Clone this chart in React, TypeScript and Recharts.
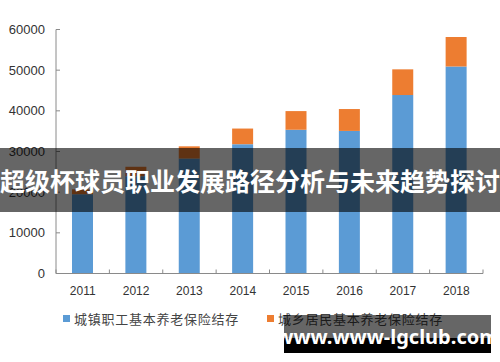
import React from "react";
import { BarChart, Bar, XAxis, YAxis } from "recharts";

const years = ["2011", "2012", "2013", "2014", "2015", "2016", "2017", "2018"];
const urbanWorkers = [19497, 23941, 28269, 31800, 35345, 35058, 43885, 50901];
const ruralResidents = [1199, 2302, 3006, 3845, 4592, 5385, 6318, 7250];
const seriesNames = ["城镇职工基本养老保险结存", "城乡居民基本养老保险结存"];
const seriesColors = ["#5B9BD5", "#ED7D31"];
const yTicks = [0, 10000, 20000, 30000, 40000, 50000, 60000];
const bannerText = "超级杯球员职业发展路径分析与未来趋势探讨";
const watermarkText = "www.www-lgclub.com";

const data = years.map((y, i) => ({ year: y, urban: urbanWorkers[i], rural: ruralResidents[i] }));

const AXIS_COLOR = "#8a8a8a";
const HALF_BAND = 427 / 8 / 2;

const XTick = (props: any) => {
  const { x, y, payload, index } = props;
  return (
    <g>
      <line x1={x - HALF_BAND} x2={x - HALF_BAND} y1={y} y2={y - 4} stroke={AXIS_COLOR} />
      {index === years.length - 1 && (
        <line x1={x + HALF_BAND} x2={x + HALF_BAND} y1={y} y2={y - 4} stroke={AXIS_COLOR} />
      )}
      <text x={x} y={y + 21} textAnchor="middle" fontSize={12} fill="#333" fontFamily="Liberation Sans, Arial, sans-serif">
        {payload.value}
      </text>
    </g>
  );
};

const YTick = (props: any) => {
  const { x, y, payload } = props;
  return (
    <g>
      <line x1={x} x2={x + 4} y1={y} y2={y} stroke={AXIS_COLOR} />
      <text x={x - 11} y={y + 4.5} textAnchor="end" fontSize={13} fill="#333" fontFamily="Liberation Sans, Arial, sans-serif">
        {payload.value}
      </text>
    </g>
  );
};

export default function App() {
  return (
    <div style={{ position: "absolute", left: 0, top: 0, width: 500, height: 362, background: "#fff", overflow: "hidden" }}>
      <BarChart
        width={500}
        height={362}
        data={data}
        margin={{ top: 29.5, right: 17, left: 6, bottom: 58.5 }}
      >
        <XAxis
          dataKey="year"
          height={30}
          tickLine={false}
          tickSize={0}
          tickMargin={0}
          axisLine={{ stroke: AXIS_COLOR }}
          tick={<XTick />}
          interval={0}
        />
        <YAxis
          width={50}
          domain={[0, 60000]}
          ticks={yTicks}
          tickLine={false}
          tickSize={0}
          tickMargin={0}
          axisLine={{ stroke: AXIS_COLOR }}
          tick={<YTick />}
          interval={0}
        />
        <Bar dataKey="urban" stackId="a" fill={seriesColors[0]} barSize={21} isAnimationActive={false} />
        <Bar dataKey="rural" stackId="a" fill={seriesColors[1]} barSize={21} isAnimationActive={false} />
      </BarChart>

      {seriesNames.map((name, i) => (
        <div
          key={name}
          style={{
            position: "absolute",
            left: i === 0 ? 63 : 267,
            top: 309,
            display: "flex",
            alignItems: "center",
            height: 18,
          }}
        >
          <div style={{ width: 7, height: 7, background: seriesColors[i], marginRight: 4 }} />
          <span
            style={{
              fontFamily: "'Noto Sans CJK SC', sans-serif",
              fontSize: 13,
              letterSpacing: 0.75,
              color: "#444",
              whiteSpace: "nowrap",
            }}
          >
            {name}
          </span>
        </div>
      ))}

      <div
        style={{
          position: "absolute",
          left: 0,
          top: 148,
          width: 500,
          height: 64,
          background: "rgba(0,0,0,0.6)",
          display: "flex",
          alignItems: "center",
          justifyContent: "center",
        }}
      >
        <span
          style={{
            color: "#fff",
            fontFamily: "'Noto Sans CJK SC', sans-serif",
            fontWeight: 700,
            fontSize: 25,
            whiteSpace: "nowrap",
          }}
        >
          {bannerText}
        </span>
      </div>

      <div style={{ position: "absolute", left: 284, top: 315, width: 207, height: 38, background: "rgba(0,0,0,0.6)" }} />
      <div style={{ position: "absolute", left: 284, top: 338, width: 207, height: 15, background: "#000" }} />
      <div
        style={{
          position: "absolute",
          left: 284,
          top: 315,
          width: 207,
          height: 42,
          display: "flex",
          alignItems: "center",
          justifyContent: "center",
          color: "#fff",
          fontFamily: "'Noto Sans', sans-serif",
          fontWeight: 700,
          fontSize: 20,
          whiteSpace: "nowrap",
        }}
      >
        {watermarkText}
      </div>
    </div>
  );
}
